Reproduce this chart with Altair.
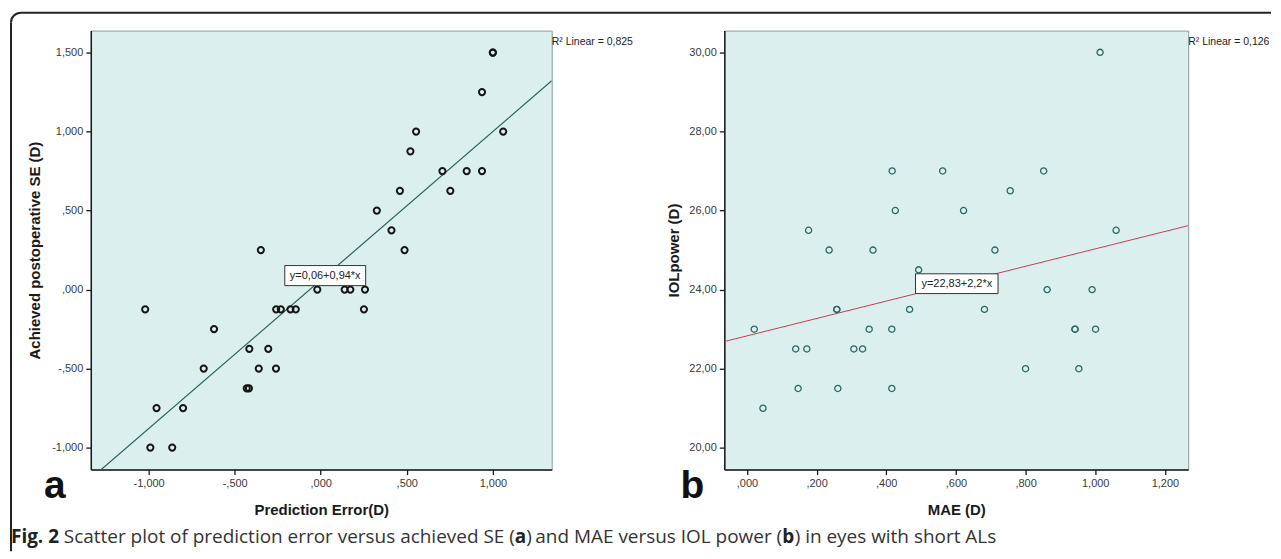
import altair as alt
import pandas as pd

# ---------------- data ----------------
# Panel a: prediction error vs achieved postoperative SE
pred_err = [-1.02, -0.62, -0.415, -0.305, -0.68, -0.36, -0.26, -0.43, -0.417, -0.954, -0.80, -0.99, -0.863,
            -0.259, -0.232, -0.176, -0.145, -0.02, 0.139, 0.172, 0.257, 0.251, 1.0, 1.0, 0.937, 0.554, 1.06,
            0.521, 0.707, 0.848, 0.937, 0.46, 0.753, 0.326, 0.411, 0.487, -0.348]
achieved_se = [-0.125, -0.25, -0.375, -0.375, -0.5, -0.5, -0.5, -0.625, -0.625, -0.75, -0.75, -1.0, -1.0,
               -0.125, -0.125, -0.125, -0.125, 0.0, 0.0, 0.0, 0.0, -0.125, 1.5, 1.5, 1.25, 1.0, 1.0,
               0.875, 0.75, 0.75, 0.75, 0.625, 0.625, 0.5, 0.375, 0.25, 0.25]
fit_a = [0.06, 0.94]          # intercept, slope
r2_a = "R\u00b2 Linear = 0,825"
eq_a = "y=0,06+0,94*x"

# Panel b: MAE vs IOL power
mae = [0.021, 0.046, 0.14, 0.172, 0.147, 0.258, 0.258, 0.261, 0.307, 0.332, 0.351, 0.416, 0.416, 0.467, 0.493,
       0.177, 0.236, 0.362, 0.417, 0.426, 0.562, 0.622, 0.852, 0.756, 1.06, 0.712, 1.014, 0.862, 0.991, 0.682,
       0.942, 0.942, 1.001, 0.80, 0.953]
iol = [23, 21, 22.5, 22.5, 21.5, 23.5, 23.5, 21.5, 22.5, 22.5, 23, 23, 21.5, 23.5, 24.5,
       25.5, 25, 25, 27, 26, 27, 26, 27, 26.5, 25.5, 25, 30, 24, 24, 23.5,
       23, 23, 23, 22, 22]
fit_b = [22.83, 2.2]
r2_b = "R\u00b2 Linear = 0,126"
eq_b = "y=22,83+2,2*x"

# axes
xa_dom, ya_dom = [-1.336, 1.342], [-1.139, 1.639]
xb_dom, yb_dom = [-0.065, 1.267], [19.45, 30.55]
xa_ticks = [-1.0, -0.5, 0.0, 0.5, 1.0]
ya_ticks = [-1.0, -0.5, 0.0, 0.5, 1.0, 1.5]
xb_ticks = [0.0, 0.2, 0.4, 0.6, 0.8, 1.0, 1.2]
yb_ticks = [20, 22, 24, 26, 28, 30]

# equation label boxes (data units): x1, x2, y1, y2
box_a = [-0.209, 0.261, 0.025, 0.152]
box_b = [0.484, 0.721, 23.90, 24.40]

caption_parts = ["Fig. 2", "Scatter plot of prediction error versus achieved SE (", "a", ")",
                 " and MAE versus IOL power (", "b", ") in eyes with short ALs"]

# ---------------- layout constants ----------------
WA, WB, H = 462, 465, 440
FONT = "Liberation Sans"
CAP_FONT = "Open Sans"
CAP_SIZE = 19
one = pd.DataFrame({"k": [0]})

fmt3 = "replace(replace(replace(format(datum.value, '.3f'), '.', ','), '0,', ','), '\u2212', '-')"
fmt2 = "replace(format(datum.value, '.2f'), '.', ',')"


def panel(xs, ys, xdom, ydom, xt, yt, xfmt, yfmt, xtitle, ytitle, ytitle_x, width,
          fit, eq, box, r2, letter, letter_x, pt_color, pt_sw, line_color, line_w):
    df = pd.DataFrame({"x": xs, "y": ys})
    xsc = alt.Scale(domain=xdom, nice=False, zero=False)
    ysc = alt.Scale(domain=ydom, nice=False, zero=False)
    X = alt.X("x:Q", scale=xsc, axis=alt.Axis(values=xt, labelExpr=xfmt, title=xtitle,
                                               titleX=width / 2, titleY=45, titleAlign="center",
                                               titleBaseline="alphabetic", labelFlush=False))
    Y = alt.Y("y:Q", scale=ysc, axis=alt.Axis(values=yt, labelExpr=yfmt, title=ytitle,
                                               titleX=ytitle_x, titleY=H / 2, titleAngle=270,
                                               titleAlign="center", titleBaseline="alphabetic"))
    pts = alt.Chart(df).mark_point(shape="circle", filled=False, size=38, strokeWidth=pt_sw,
                                   color=pt_color, opacity=1).encode(x=X, y=Y)
    line_df = pd.DataFrame({"x": xdom})
    line = alt.Chart(line_df).transform_calculate(
        y=f"{fit[0]} + {fit[1]} * datum.x"
    ).mark_line(color=line_color, strokeWidth=line_w, clip=True).encode(
        x=alt.X("x:Q", scale=xsc), y=alt.Y("y:Q", scale=ysc))
    bdf = pd.DataFrame({"x1": [box[0]], "x2": [box[1]], "y1": [box[2]], "y2": [box[3]],
                        "xc": [(box[0] + box[1]) / 2], "yc": [(box[2] + box[3]) / 2], "t": [eq]})
    brect = alt.Chart(bdf).mark_rect(fill="white", stroke="#333333", strokeWidth=1).encode(
        x=alt.X("x1:Q", scale=xsc), x2="x2:Q", y=alt.Y("y1:Q", scale=ysc), y2="y2:Q")
    btext = alt.Chart(bdf).mark_text(font=FONT, fontSize=11, color="#222222", baseline="middle",
                                     align="center").encode(
        x=alt.X("xc:Q", scale=xsc), y=alt.Y("yc:Q", scale=ysc), text="t:N")
    r2t = alt.Chart(one).mark_text(font=FONT, fontSize=10.5, color="#222222", align="left",
                                   baseline="alphabetic").encode(
        x=alt.value(width), y=alt.value(14), text=alt.value(r2))
    let = alt.Chart(one).mark_text(font=FONT, fontSize=39, fontWeight="bold", color="#111111",
                                   align="left", baseline="alphabetic").encode(
        x=alt.value(letter_x), y=alt.value(H + 29), text=alt.value(letter))
    return [line, pts, brect, btext, r2t, let]


la = panel(pred_err, achieved_se, xa_dom, ya_dom, xa_ticks, ya_ticks, fmt3, fmt3,
           "Prediction Error(D)", "Achieved postoperative SE (D)", -51, WA,
           fit_a, eq_a, box_a, r2_a, "a", -47, "#151515", 2.0, "#2a5e5e", 1.2)
lb = panel(mae, iol, xb_dom, yb_dom, xb_ticks, yb_ticks, fmt3, fmt2,
           "MAE (D)", "IOLpower (D)", -46, WB,
           fit_b, eq_b, box_b, r2_b, "b", -44, "#2d6565", 1.3, "#cc3a55", 1.0)

# decorative frame (top & left edge with rounded corner) and the caption, drawn from panel a
frame_col = "#222222"
top_rule = alt.Chart(one).mark_rule(color=frame_col, strokeWidth=2).encode(
    x=alt.value(-70), x2=alt.value(1183), y=alt.value(-18))
left_rule = alt.Chart(one).mark_rule(color=frame_col, strokeWidth=2).encode(
    x=alt.value(-80), y=alt.value(-8), y2=alt.value(522))
corner = alt.Chart(one).mark_arc(theta=4.7124, theta2=6.2832, radius=11, radius2=9,
                                 color=frame_col).encode(x=alt.value(-70), y=alt.value(-8))

CAP_Y = 514
a_left, b_left = 515 - 90, 783 - 90
cap_col = "#333333"


def cap(text, x, align, bold):
    return alt.Chart(one).mark_text(font=CAP_FONT, fontSize=CAP_SIZE,
                                    fontWeight="bold" if bold else "normal",
                                    color="#222222" if bold else cap_col,
                                    align=align, baseline="alphabetic").encode(
        x=alt.value(x), y=alt.value(CAP_Y), text=alt.value(text))


caps = [
    cap(caption_parts[0], -80, "left", True),
    cap(caption_parts[1], a_left, "right", False),
    cap(caption_parts[2], a_left, "left", True),
    cap(caption_parts[3], a_left + 11.4, "left", False),
    cap(caption_parts[4], b_left, "right", False),
    cap(caption_parts[5], b_left, "left", True),
    cap(caption_parts[6], b_left + 12.5, "left", False),
]

chart_a = alt.layer(top_rule, left_rule, corner, *la, *caps).properties(width=WA, height=H)
chart_b = alt.layer(*lb).properties(width=WB, height=H)

chart = alt.hconcat(chart_a, chart_b, spacing=173, bounds="flush").properties(
    padding={"left": 1, "top": 2, "right": 0, "bottom": 0}
).configure_view(
    fill="#dbf0ee", stroke="#8a9c9c", strokeWidth=1
).configure_axis(
    grid=False, domainColor="#1a1a1a", domainWidth=1.5, tickColor="#1a1a1a", tickWidth=1.3,
    tickSize=5, labelFont=FONT, labelFontSize=11, labelColor="#3a3a3a", labelPadding=3,
    titleFont=FONT, titleFontSize=15, titleFontWeight="bold", titleColor="#1a1a1a"
)

chart.save("out.html", embed_options={"renderer": "svg", "actions": False})
